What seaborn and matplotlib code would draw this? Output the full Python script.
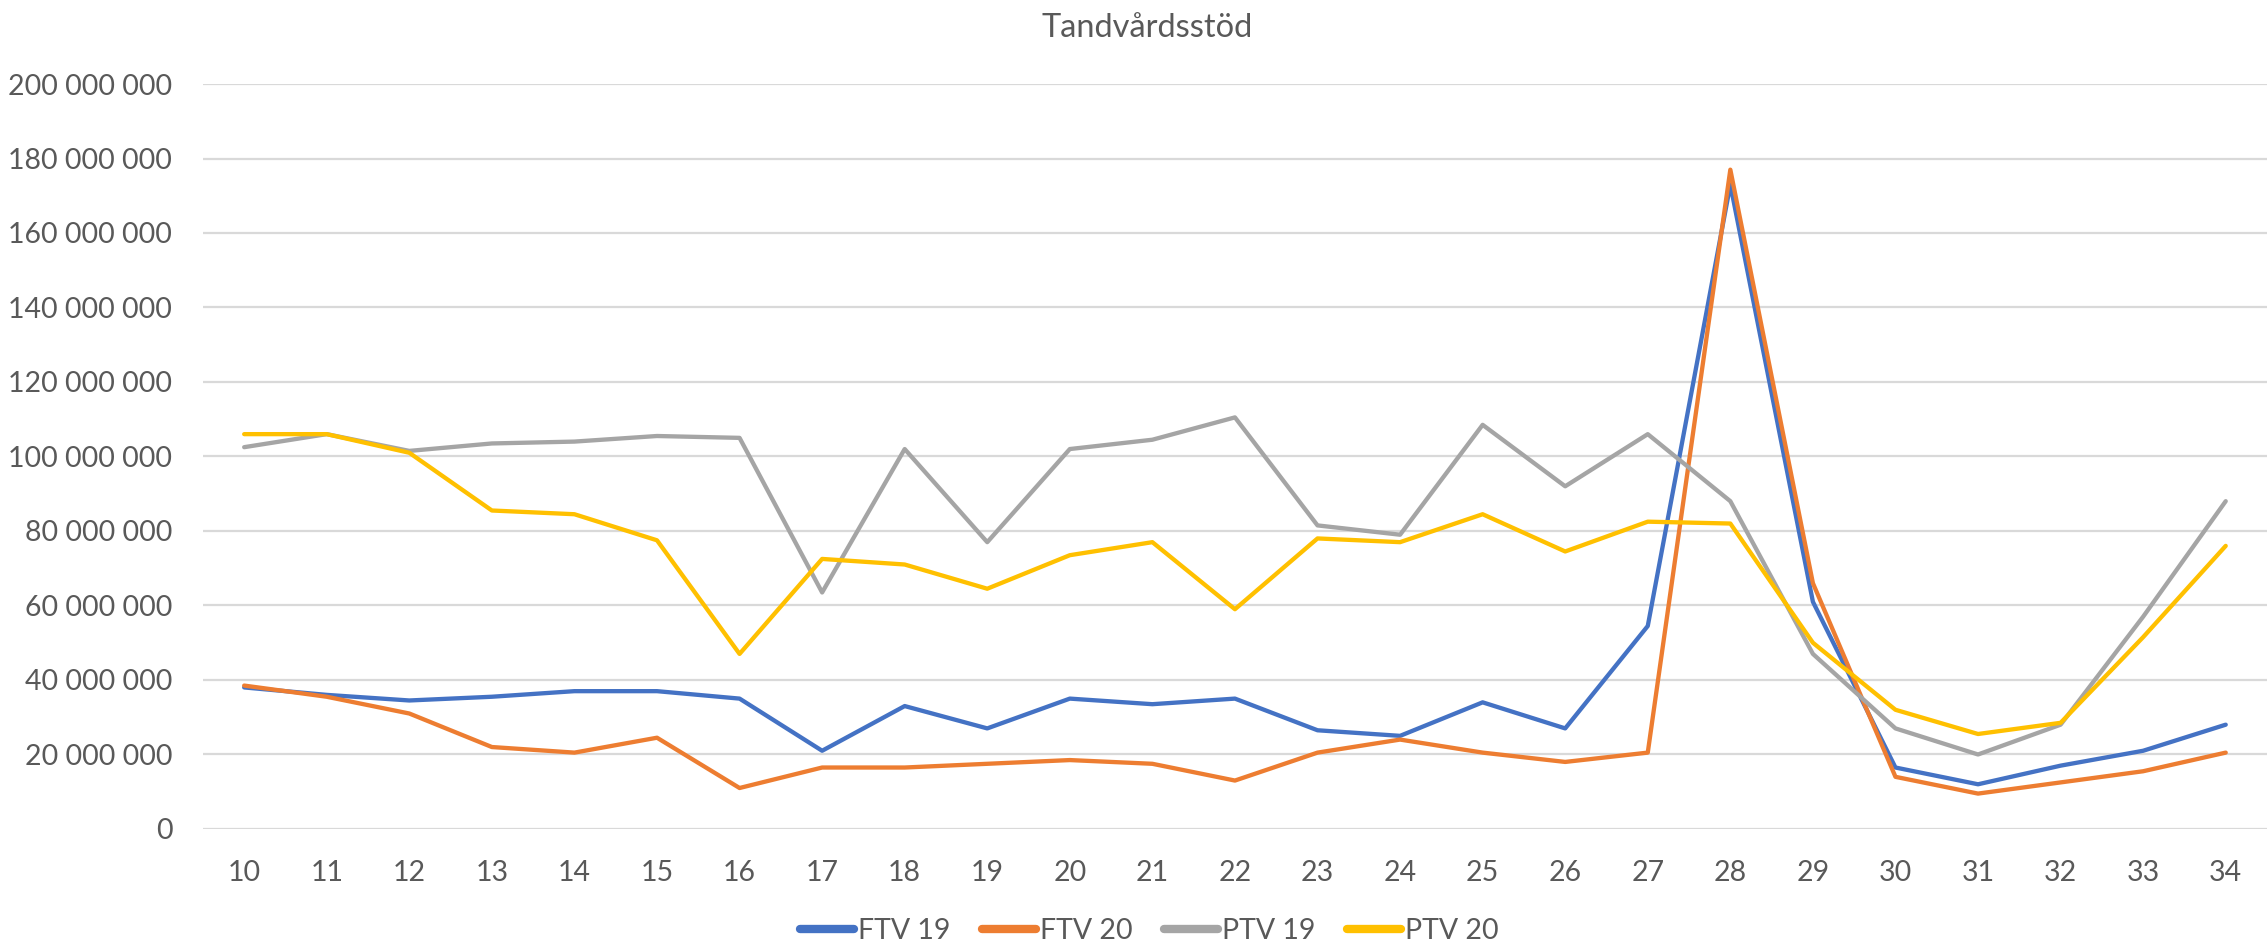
import matplotlib
matplotlib.use("Agg")
import matplotlib.pyplot as plt
import seaborn as sns
import pandas as pd
from matplotlib.ticker import FuncFormatter, MultipleLocator
from matplotlib.lines import Line2D

weeks = list(range(10, 35))
ftv19 = [38, 36, 34.5, 35.5, 37, 37, 35, 21, 33, 27, 35, 33.5, 35, 26.5, 25, 34, 27, 54.5, 173, 61, 16.5, 12, 17, 21, 28]
ftv20 = [38.5, 35.5, 31, 22, 20.5, 24.5, 11, 16.5, 16.5, 17.5, 18.5, 17.5, 13, 20.5, 24, 20.5, 18, 20.5, 177, 66, 14, 9.5, 12.5, 15.5, 20.5]
ptv19 = [102.5, 106, 101.5, 103.5, 104, 105.5, 105, 63.5, 102, 77, 102, 104.5, 110.5, 81.5, 79, 108.5, 92, 106, 88, 47, 27, 20, 28, 57, 88]
ptv20 = [106, 106, 101, 85.5, 84.5, 77.5, 47, 72.5, 71, 64.5, 73.5, 77, 59, 78, 77, 84.5, 74.5, 82.5, 82, 50, 32, 25.5, 28.5, 51.5, 76]
series_names = ["FTV 19", "FTV 20", "PTV 19", "PTV 20"]
colors = ["#4472C4", "#ED7D31", "#A5A5A5", "#FFC000"]
title = "Tandvårdsstöd"

rows = []
for name, vals in zip(series_names, [ftv19, ftv20, ptv19, ptv20]):
    for w, v in zip(weeks, vals):
        rows.append({"Vecka": w, "Belopp": v * 1e6, "Serie": name})
df = pd.DataFrame(rows)

sns.set_theme(style="white")
plt.rcParams["font.family"] = ["Lato", "DejaVu Sans"]
text_color = "#595959"

fig = plt.figure(figsize=(22.67, 9.46), dpi=100)
ax = fig.add_axes([0.0895, 0.1237, 0.9105, 0.7875])

sns.lineplot(data=df, x="Vecka", y="Belopp", hue="Serie", hue_order=series_names,
             palette=colors, linewidth=3.1, ax=ax, legend=False, sort=False)

ax.set_xlim(9.5, 34.5)
ax.set_ylim(0, 200e6)
ax.yaxis.set_major_locator(MultipleLocator(20e6))
ax.yaxis.set_major_formatter(FuncFormatter(lambda v, p: f"{int(round(v)):,}".replace(",", " ")))
ax.set_xticks(weeks)
ax.set_xticklabels([str(w) for w in weeks])
ax.grid(axis="y", color="#D9D9D9", linewidth=1.6)
ax.set_axisbelow(True)
for s in ax.spines.values():
    s.set_visible(False)
ax.tick_params(axis="both", length=0, labelsize=20.5, colors=text_color)
ax.tick_params(axis="y", pad=22)
ax.tick_params(axis="x", pad=22)
ax.set_xlabel("")
ax.set_ylabel("")

fig.text(0.506, 0.970, title, ha="center", va="center", fontsize=23.5, color=text_color)

handles = [Line2D([0], [0], color=c, linewidth=6, solid_capstyle="round") for c in colors]
leg = fig.legend(handles, series_names, loc="center", bbox_to_anchor=(0.507, 0.016), ncol=4,
                 frameon=False, fontsize=20.5, handlelength=1.9, handletextpad=0.15,
                 columnspacing=1.1, borderpad=0, borderaxespad=0)
for t in leg.get_texts():
    t.set_color(text_color)

fig.savefig("out.png", dpi=100, facecolor="white")
